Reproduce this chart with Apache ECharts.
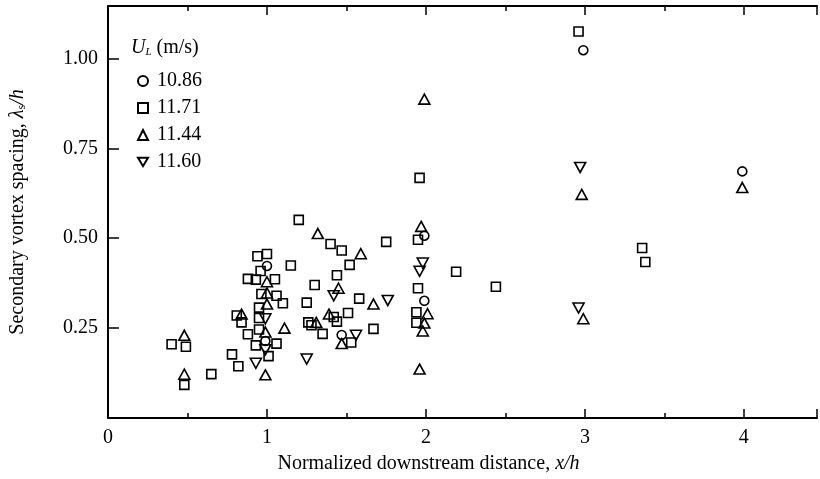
<!DOCTYPE html>
<html><head><meta charset="utf-8">
<script src="https://cdn.jsdelivr.net/npm/echarts@6/dist/echarts.min.js"></script>
<style>html,body{margin:0;padding:0;background:#fff}#c{width:820px;height:479px}</style>
</head><body><div id="c"></div>
<script>
const seriesNames = ['10.86', '11.71', '11.44', '11.60'];
const xTickLabels = ['0', '1', '2', '3', '4'];
const yTickLabels = ['0.25', '0.50', '0.75', '1.00'];

const circles1086 = [
  [2.99, 1.023], [3.99, 0.686], [1.99, 0.507], [1.99, 0.326],
  [1.00, 0.423], [0.99, 0.214], [1.47, 0.231]
];
const squares1171 = [
  [0.40, 0.205], [0.49, 0.198], [0.48, 0.092], [0.65, 0.122],
  [0.78, 0.177], [0.82, 0.144], [0.81, 0.285], [0.84, 0.266], [0.88, 0.233],
  [0.88, 0.387], [0.93, 0.385], [1.05, 0.386], [0.96, 0.409],
  [0.94, 0.450], [1.00, 0.456], [1.15, 0.424],
  [0.965, 0.345], [1.06, 0.340], [1.10, 0.319], [0.95, 0.307],
  [0.95, 0.278], [0.95, 0.246], [0.93, 0.202], [1.06, 0.207], [1.01, 0.172],
  [1.20, 0.551], [1.25, 0.321], [1.26, 0.266], [1.28, 0.258], [1.35, 0.234],
  [1.30, 0.370], [1.40, 0.484], [1.47, 0.466], [1.52, 0.426], [1.44, 0.397],
  [1.58, 0.332], [1.51, 0.292], [1.42, 0.281], [1.44, 0.268], [1.67, 0.248],
  [1.53, 0.210], [1.75, 0.490],
  [1.96, 0.668], [1.95, 0.496], [1.95, 0.361], [1.94, 0.294], [1.94, 0.265],
  [2.19, 0.407], [2.44, 0.365], [2.96, 1.075], [3.36, 0.473], [3.38, 0.434]
];
const upTri1144 = [
  [0.48, 0.230], [0.48, 0.122], [0.84, 0.289], [0.99, 0.120], [0.99, 0.239],
  [1.00, 0.317], [1.00, 0.348], [1.00, 0.379], [1.11, 0.250], [1.32, 0.513],
  [1.59, 0.457], [1.45, 0.361], [1.67, 0.317], [1.39, 0.289], [1.31, 0.266],
  [1.47, 0.207], [1.97, 0.533], [1.99, 0.887], [2.01, 0.290], [1.99, 0.264],
  [1.98, 0.242], [1.96, 0.136], [2.98, 0.622], [2.99, 0.276], [3.99, 0.641]
];
const downTri1160 = [
  [0.99, 0.276], [0.99, 0.190], [0.93, 0.152], [1.25, 0.164], [1.42, 0.340],
  [1.76, 0.327], [1.56, 0.230], [1.98, 0.431], [1.96, 0.408], [2.97, 0.697],
  [2.96, 0.306]
];

const FONT = 'Liberation Serif';
const chart = echarts.init(document.getElementById('c'), null, {renderer: 'canvas'});
const mk = (name, data, symbol, size) => ({
  name, type: 'scatter', data, symbol, symbolSize: size,
  itemStyle: {color: 'rgba(0,0,0,0)', borderColor: '#000', borderWidth: 1.6, opacity: 1},
  emphasis: {disabled: true}, z: 3
});
const axisCommon = {
  type: 'value', min: 0, max: 4.46, interval: 1,
  axisLine: {show: true, onZero: false, lineStyle: {color: '#000', width: 2}},
  axisTick: {show: true, inside: true, length: 9, lineStyle: {color: '#000', width: 1.5}},
  minorTick: {show: true, splitNumber: 2, length: 5, lineStyle: {color: '#000', width: 1.5}},
  splitLine: {show: false}
};
chart.setOption({
  animation: false,
  backgroundColor: '#fff',
  grid: {left: 89, right: 0, top: 6, bottom: 57},
  legend: {
    orient: 'vertical', left: 137, top: 71, padding: 0, itemGap: 7,
    itemWidth: 10, itemHeight: 10,
    data: seriesNames,
    textStyle: {fontFamily: FONT, fontSize: 20, color: '#000', padding: [0, 0, 0, 4]}
  },
  graphic: [{
    type: 'text', left: 131, top: 38,
    style: {
      rich: {
        u: {fontFamily: FONT, fontStyle: 'italic', fontSize: 20, fill: '#000'},
        l: {fontFamily: FONT, fontStyle: 'italic', fontSize: 11, fill: '#000', padding: [8, 0, 0, 0]},
        t: {fontFamily: FONT, fontSize: 20, fill: '#000'}
      },
      text: '{u|U}{l|L}{t| (m/s)}'
    }
  }],
  xAxis: [
    Object.assign({}, axisCommon, {
      position: 'bottom',
      axisLabel: {show: true, margin: 10, fontFamily: FONT, fontSize: 20, color: '#000',
        formatter: v => { const i = xTickLabels.indexOf(String(Math.round(v))); return Math.abs(v - Math.round(v)) < 1e-6 && i >= 0 ? xTickLabels[i] : ''; }},
      name: '{a|Normalized downstream distance, }{i|x/h}',
      nameLocation: 'middle', nameGap: 36,
      nameTextStyle: {padding: [0, 68, 0, 0], rich: {
        a: {fontFamily: FONT, fontSize: 20, color: '#000'},
        i: {fontFamily: FONT, fontSize: 20, fontStyle: 'italic', color: '#000'}
      }}
    }),
    Object.assign({}, axisCommon, {position: 'top', axisLabel: {show: false}})
  ],
  yAxis: [{
    type: 'value', min: 0, max: 1.146, interval: 0.25,
    axisLine: {show: true, onZero: false, lineStyle: {color: '#000', width: 2}},
    axisTick: {show: true, inside: true, length: 11, lineStyle: {color: '#000', width: 1.5}},
    splitLine: {show: false},
    axisLabel: {show: true, margin: 10, fontFamily: FONT, fontSize: 20, color: '#000',
      formatter: v => { const k = Math.round(v / 0.25); return (k >= 1 && k <= 4 && Math.abs(v - k * 0.25) < 1e-6) ? yTickLabels[k - 1] : ''; }},
    name: '{a|Secondary vortex spacing, }{i|λ}{s|s}{i|/h}',
    nameLocation: 'middle', nameGap: 60, nameRotate: 90,
    nameTextStyle: {padding: [0, 0, 20, 0], rich: {
      a: {fontFamily: FONT, fontSize: 20, color: '#000'},
      i: {fontFamily: FONT, fontSize: 20, fontStyle: 'italic', color: '#000'},
      s: {fontFamily: FONT, fontSize: 12, color: '#000', padding: [8, 0, 0, 0]}
    }}
  }],
  series: [
    mk(seriesNames[0], circles1086, 'circle', 9),
    mk(seriesNames[1], squares1171, 'rect', 9),
    mk(seriesNames[2], upTri1144, 'triangle', [11, 10]),
    mk(seriesNames[3], downTri1160, 'path://M0,0L12,0L6,10Z', [11, 10])
  ]
});
</script></body></html>
